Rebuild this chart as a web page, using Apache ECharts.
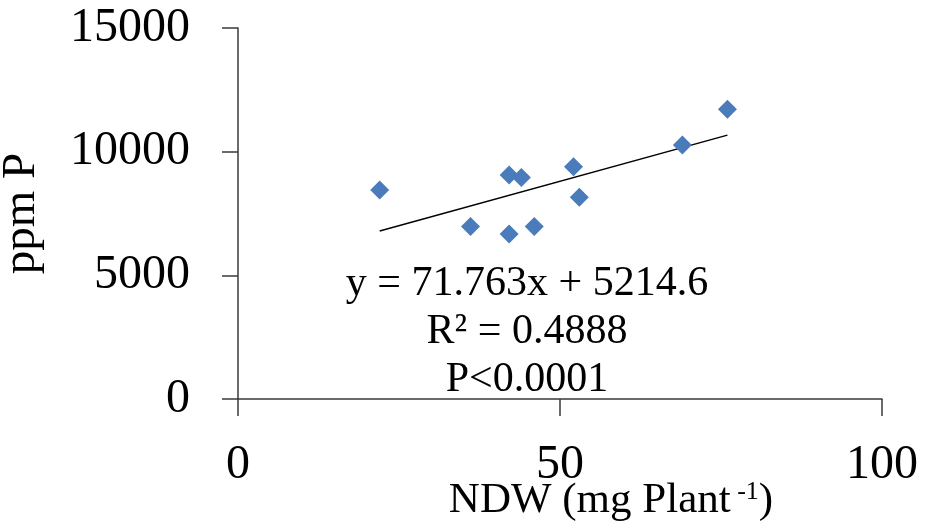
<!DOCTYPE html>
<html>
<head>
<meta charset="utf-8">
<script src="https://cdn.jsdelivr.net/npm/echarts@6/dist/echarts.min.js"></script>
<style>
html,body{margin:0;padding:0;background:#fff;}
#chart{width:927px;height:527px;}
</style>
</head>
<body>
<div id="chart"></div>
<script>
// Data
const ndw = [22.0, 36.1, 42.1, 44.0, 42.1, 46.0, 52.1, 53.0, 69.0, 76.0];
const ppmP = [8450, 6970, 9060, 8960, 6670, 6970, 9390, 8160, 10270, 11710];
const trendX = [22, 76];
const trendY = [6793, 10668];
const xTicks = [0, 50, 100];
const yTicks = [0, 5000, 10000, 15000];
const eqLines = ['y = 71.763x + 5214.6', 'R\u00B2 = 0.4888', 'P<0.0001'];

const FONT = "'Liberation Serif', 'Times New Roman', serif";
const chart = echarts.init(document.getElementById('chart'));
const axisCol = '#3a3a3a';

chart.setOption({
  animation: false,
  backgroundColor: '#fff',
  grid: { left: 238, right: 45, top: 28, bottom: 128, containLabel: false, outerBoundsMode: 'none' },
  xAxis: {
    type: 'value', min: xTicks[0], max: xTicks[xTicks.length - 1], interval: 50,
    axisLine: { show: true, lineStyle: { color: axisCol, width: 1.5 } },
    axisTick: { show: true, inside: false, length: 17, lineStyle: { color: axisCol, width: 1.5 } },
    splitLine: { show: false },
    axisLabel: { fontFamily: FONT, fontSize: 48, color: '#000', margin: 42, formatter: v => String(v) },
    name: 'NDW (mg Plant{sup| -1})',
    nameLocation: 'middle', nameGap: 80, nameMoveOverlap: false,
    nameTextStyle: {
      fontFamily: FONT, fontSize: 43, color: '#000', padding: [0, 0, 0, 102],
      rich: { sup: { fontFamily: FONT, fontSize: 26, color: '#000', verticalAlign: 'top', padding: [0, 0, 17, 0] } }
    }
  },
  yAxis: {
    type: 'value', min: yTicks[0], max: yTicks[yTicks.length - 1], interval: 5000,
    axisLine: { show: true, lineStyle: { color: axisCol, width: 1.5 } },
    axisTick: { show: true, inside: false, length: 16, lineStyle: { color: axisCol, width: 1.5 } },
    splitLine: { show: false },
    axisLabel: { fontFamily: FONT, fontSize: 48, color: '#000', margin: 48, formatter: v => String(v) },
    name: 'ppm P', nameLocation: 'middle', nameGap: 193, nameRotate: 90, nameMoveOverlap: false,
    nameTextStyle: { fontFamily: FONT, fontSize: 47, color: '#000' }
  },
  series: [
    {
      type: 'line', data: trendX.map((x, i) => [x, trendY[i]]),
      showSymbol: false, symbol: 'none',
      lineStyle: { color: '#000', width: 1.5 }, z: 1
    },
    {
      type: 'scatter', data: ndw.map((x, i) => [x, ppmP[i]]),
      symbol: 'diamond', symbolSize: 19,
      itemStyle: { color: '#4A7CBC', opacity: 1 }, z: 2
    }
  ],
  graphic: eqLines.map((t, i) => ({
    type: 'text', x: 527, y: 284 + i * 48,
    style: { text: t, fontFamily: FONT, fontSize: 42, fill: '#000', align: 'center', verticalAlign: 'middle' }
  }))
});
</script>
</body>
</html>
